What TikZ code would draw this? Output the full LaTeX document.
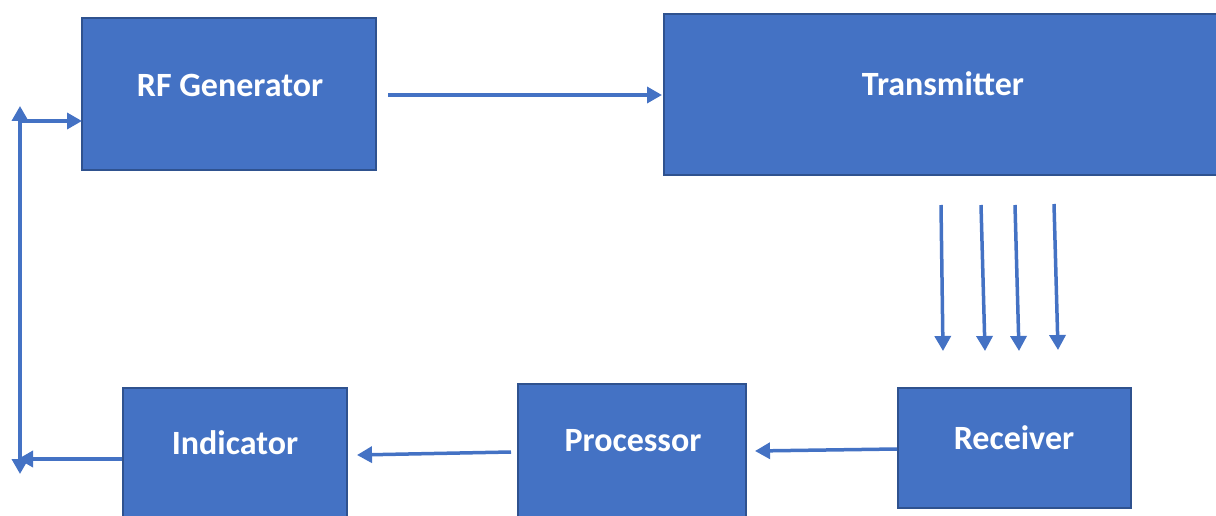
\documentclass[tikz,border=0pt]{standalone}
\usepackage{fontspec}
\setmainfont{Carlito}
\usetikzlibrary{arrows.meta}
\definecolor{boxfill}{HTML}{4472C4}
\definecolor{boxline}{HTML}{2F528F}
\begin{document}
\begin{tikzpicture}[x=1pt,y=-1pt,
  blk/.style={draw=boxline,fill=boxfill,line width=1.5pt,inner sep=0pt},
  lbl/.style={text=white,font=\fontsize{34}{38}\selectfont\bfseries,inner sep=0pt},
  conn/.style={draw=boxfill,line width=3.5pt,-{Triangle[length=15pt,width=16pt]}},
  conn2/.style={draw=boxfill,line width=3.5pt,{Triangle[length=15pt,width=16pt]}-{Triangle[length=15pt,width=16pt]}}]
\useasboundingbox (0,0) rectangle (1216,516);
\clip (0,0) rectangle (1216,516);
% boxes
\path[blk] (82,18) rectangle (376,170);
\node[lbl] (trf) at (230,85) {RF Generator};
\coordinate (rfL) at (82,121);
\coordinate (rfR) at (376,95);
\path[blk] (664,14) rectangle (1230,175);
\node[lbl] (ttx) at (943,84) {Transmitter};
\coordinate (txL) at (664,95);
\path[blk] (123,388) rectangle (347,530);
\node[lbl] (tin) at (235,443) {Indicator};
\coordinate (inL) at (123,459);
\coordinate (inR) at (347,455);
\path[blk] (518,384) rectangle (746,530);
\node[lbl] (tpr) at (633,441) {Processor};
\coordinate (prL) at (518,452);
\coordinate (prR) at (746,451);
\path[blk] (898,388) rectangle (1131,508);
\node[lbl] (trc) at (1014,438) {Receiver};
\coordinate (rcL) at (898,449);
% connectors
\coordinate (vt) at (20,106);
\coordinate (vb) at (20,474);
\coordinate (vh1) at (20,121);
\coordinate (vh2) at (20,459);
\draw[conn2] (vt) -- (vb);
\draw[conn] (vh1) -- (rfL);
\draw[conn] ([xshift=-1pt]inL) -- ([xshift=-2pt]vh2);
\draw[conn] ([xshift=12pt]rfR) -- ([xshift=-2pt]txL);
\draw[conn] ([xshift=-7pt]prL) -- ([xshift=10pt]inR);
\draw[conn] ([xshift=-1pt]rcL) -- ([xshift=9pt]prR);
% signal arrows
\coordinate (a1) at (941,205); \coordinate (b1) at (943,351);
\coordinate (a2) at (981,205); \coordinate (b2) at (985,351);
\coordinate (a3) at (1015,205); \coordinate (b3) at (1019,351);
\coordinate (a4) at (1054,204); \coordinate (b4) at (1058,350);
\foreach \i in {1,2,3,4}{\draw[conn] (a\i) -- (b\i);}
\end{tikzpicture}
\end{document}
